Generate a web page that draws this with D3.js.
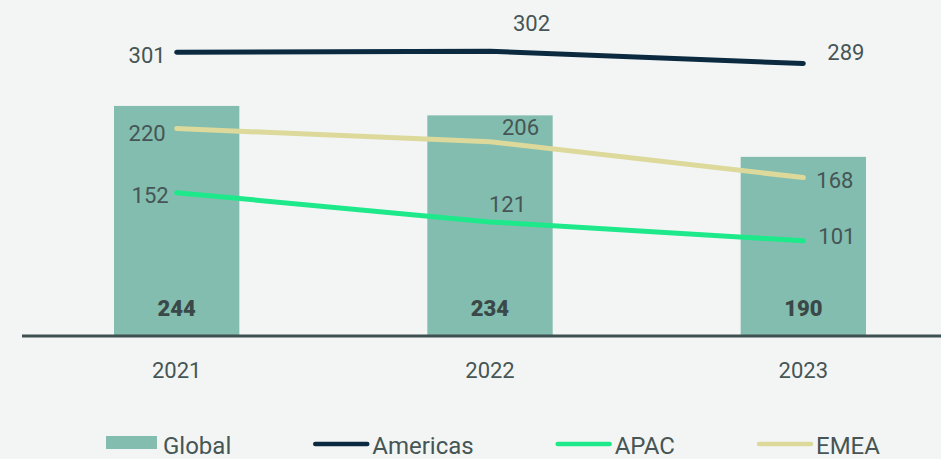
<!DOCTYPE html>
<html>
<head>
<meta charset="utf-8">
<script src="https://cdn.jsdelivr.net/npm/d3@7"></script>
<style>
  html, body { margin: 0; padding: 0; background: #f3f5f4; }
  svg { display: block; font-family: Roboto, "Noto Sans", Arial, sans-serif; }
</style>
</head>
<body>
<svg id="chart" width="941" height="459"></svg>
<script>
// Data
const years = ["2021", "2022", "2023"];
const globalValues = [244, 234, 190];
const americasValues = [301, 302, 289];
const apacValues = [152, 121, 101];
const emeaValues = [220, 206, 168];
const legendLabels = ["Global", "Americas", "APAC", "EMEA"];

// Label placement per point: [dx, dy to baseline, anchor]
const americasLabelPos = [[-11, 11, "end"], [23, -20, "start"], [24, -4, "start"]];
const emeaLabelPos = [[-11, 12, "end"], [12, -7, "start"], [13, 10, "start"]];
const apacLabelPos = [[-8, 10, "end"], [-1, -10, "start"], [15, 3, "start"]];

const colors = {
  bar: "#82bdaf",
  americas: "#0b2a40",
  apac: "#1de98b",
  emea: "#dcd99b",
  axis: "#3f5050",
  text: "#465555",
  strong: "#3a4848"
};

const svg = d3.select("#chart");

const x = d3.scaleBand().domain(years).range([20, 960]).padding(0);
const barW = x.bandwidth() * 0.4;
const cx = d => x(d) + x.bandwidth() / 2;
const y = d3.scaleLinear().domain([0, 350]).range([336, 6]);

// Bars
svg.append("g").selectAll("rect")
  .data(years)
  .join("rect")
  .attr("x", (d) => cx(d) - barW / 2)
  .attr("y", (d, i) => y(globalValues[i]))
  .attr("width", barW)
  .attr("height", (d, i) => y(0) - y(globalValues[i]))
  .attr("fill", colors.bar);

// Bar value labels
svg.append("g").selectAll("text")
  .data(years)
  .join("text")
  .attr("x", d => cx(d))
  .attr("y", 316)
  .attr("text-anchor", "middle")
  .attr("font-size", 22)
  .attr("font-weight", 900)
  .attr("fill", colors.strong)
  .text((d, i) => globalValues[i]);

// Baseline axis
const axis = svg.append("g").attr("transform", `translate(0,${y(0)})`)
  .call(d3.axisBottom(x).tickSize(0).tickPadding(0));
axis.select(".domain").attr("d", `M22,0H${x.range()[1]}`)
  .attr("stroke", colors.axis).attr("stroke-width", 3);
axis.selectAll(".tick text")
  .attr("y", 42)
  .attr("dy", 0)
  .attr("font-size", 22)
  .attr("font-family", "Roboto, 'Noto Sans', Arial, sans-serif")
  .attr("fill", colors.text);

// Regional lines
const series = [
  { name: "Americas", values: americasValues, color: colors.americas, pos: americasLabelPos },
  { name: "APAC", values: apacValues, color: colors.apac, pos: apacLabelPos },
  { name: "EMEA", values: emeaValues, color: colors.emea, pos: emeaLabelPos }
];

const line = d3.line()
  .x((d, i) => cx(years[i]))
  .y(d => y(d));

const drawOrder = [series[2], series[1], series[0]];
svg.append("g").selectAll("path")
  .data(drawOrder)
  .join("path")
  .attr("d", s => line(s.values))
  .attr("fill", "none")
  .attr("stroke", s => s.color)
  .attr("stroke-width", 5)
  .attr("stroke-linecap", "round")
  .attr("stroke-linejoin", "round");

// Line value labels
series.forEach(s => {
  svg.append("g").selectAll("text")
    .data(s.values)
    .join("text")
    .attr("x", (d, i) => cx(years[i]) + s.pos[i][0])
    .attr("y", (d, i) => y(d) + s.pos[i][1])
    .attr("text-anchor", (d, i) => s.pos[i][2])
    .attr("font-size", 22)
    .attr("fill", colors.text)
    .text(d => d);
});

// Legend (flow layout)
const legend = svg.append("g");
const legendColors = [colors.bar, colors.americas, colors.apac, colors.emea];
let lx = 106;
const ly = 443;
legendLabels.forEach((label, i) => {
  let textX;
  if (i === 0) {
    legend.append("rect")
      .attr("x", lx).attr("y", ly - 7).attr("width", 51).attr("height", 13)
      .attr("fill", legendColors[i]);
    textX = lx + 57;
  } else {
    legend.append("line")
      .attr("x1", lx + 2).attr("x2", lx + 54)
      .attr("y1", ly + 1).attr("y2", ly + 1)
      .attr("stroke", legendColors[i])
      .attr("stroke-width", 4.5)
      .attr("stroke-linecap", "round");
    textX = lx + 59;
  }
  const t = legend.append("text")
    .attr("x", textX).attr("y", 454)
    .attr("font-size", 24)
    .attr("fill", colors.text)
    .text(label);
  lx = textX + t.node().getComputedTextLength() + 82;
});
</script>
</body>
</html>
